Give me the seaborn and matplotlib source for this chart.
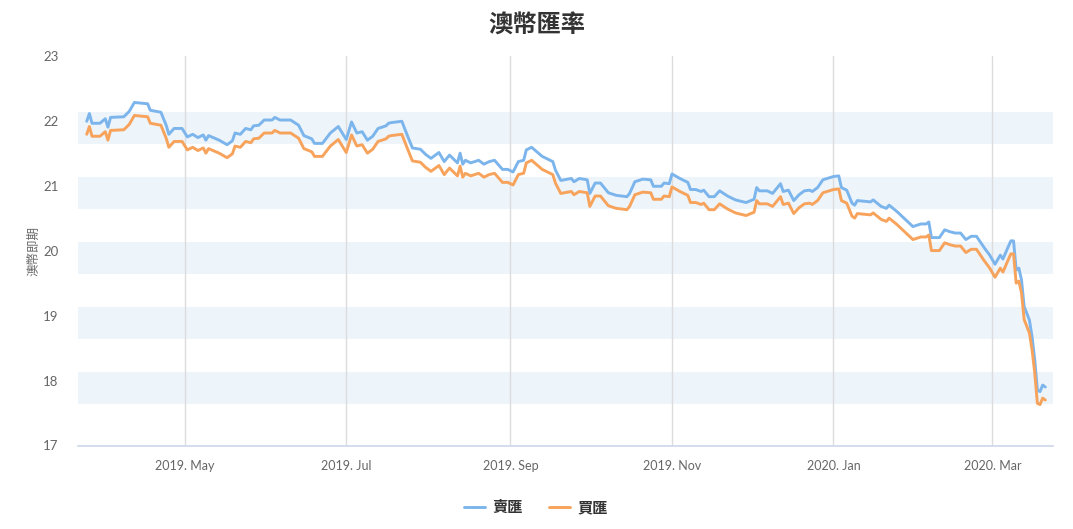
import pandas as pd
import matplotlib
matplotlib.use("Agg")
import matplotlib.pyplot as plt
import matplotlib.dates as mdates
from matplotlib.lines import Line2D
import seaborn as sns

# ---- data ----
dates = [
    # 2019-03
    "2019-03-25", "2019-03-26", "2019-03-27", "2019-03-30",
    # 2019-04
    "2019-04-01", "2019-04-02", "2019-04-03", "2019-04-08", "2019-04-10", "2019-04-12",
    "2019-04-17", "2019-04-18", "2019-04-22", "2019-04-24", "2019-04-25", "2019-04-27",
    "2019-04-30",
    # 2019-05
    "2019-05-02", "2019-05-04", "2019-05-06", "2019-05-08", "2019-05-09", "2019-05-10",
    "2019-05-14", "2019-05-17", "2019-05-19", "2019-05-20", "2019-05-22", "2019-05-24",
    "2019-05-26", "2019-05-27", "2019-05-29", "2019-05-31",
    # 2019-06
    "2019-06-03", "2019-06-04", "2019-06-06", "2019-06-10", "2019-06-13", "2019-06-15",
    "2019-06-18", "2019-06-19", "2019-06-22", "2019-06-25", "2019-06-28",
    # 2019-07
    "2019-07-01", "2019-07-03", "2019-07-05", "2019-07-07", "2019-07-09", "2019-07-11",
    "2019-07-13", "2019-07-16", "2019-07-17", "2019-07-18", "2019-07-22", "2019-07-24",
    "2019-07-26", "2019-07-29", "2019-07-31",
    # 2019-08
    "2019-08-02", "2019-08-05", "2019-08-07", "2019-08-09", "2019-08-12", "2019-08-13",
    "2019-08-14", "2019-08-15", "2019-08-17", "2019-08-20", "2019-08-22", "2019-08-24",
    "2019-08-26", "2019-08-29", "2019-08-31",
    # 2019-09
    "2019-09-02", "2019-09-04", "2019-09-06", "2019-09-07", "2019-09-09", "2019-09-11",
    "2019-09-13", "2019-09-17", "2019-09-18", "2019-09-20", "2019-09-24", "2019-09-25",
    "2019-09-27", "2019-09-30",
    # 2019-10
    "2019-10-01", "2019-10-03", "2019-10-05", "2019-10-08", "2019-10-11", "2019-10-15",
    "2019-10-16", "2019-10-18", "2019-10-21", "2019-10-24", "2019-10-25", "2019-10-28",
    "2019-10-29", "2019-10-31",
    # 2019-11
    "2019-11-01", "2019-11-04", "2019-11-07", "2019-11-08", "2019-11-10", "2019-11-12",
    "2019-11-13", "2019-11-15", "2019-11-17", "2019-11-19", "2019-11-22", "2019-11-25",
    "2019-11-29",
    # 2019-12
    "2019-12-02", "2019-12-03", "2019-12-04", "2019-12-07", "2019-12-09", "2019-12-12",
    "2019-12-13", "2019-12-15", "2019-12-17", "2019-12-19", "2019-12-21", "2019-12-23",
    "2019-12-24", "2019-12-26", "2019-12-28",
    # 2020-01
    "2020-01-01", "2020-01-03", "2020-01-04", "2020-01-06", "2020-01-08", "2020-01-09",
    "2020-01-10", "2020-01-15", "2020-01-16", "2020-01-19", "2020-01-21", "2020-01-22",
    "2020-01-25", "2020-01-31",
    # 2020-02
    "2020-02-03", "2020-02-05", "2020-02-06", "2020-02-07", "2020-02-10", "2020-02-12",
    "2020-02-14", "2020-02-16", "2020-02-18", "2020-02-20", "2020-02-22", "2020-02-24",
    "2020-02-27", "2020-02-29",
    # 2020-03
    "2020-03-02", "2020-03-03", "2020-03-04", "2020-03-05", "2020-03-07", "2020-03-08",
    "2020-03-09", "2020-03-10", "2020-03-11", "2020-03-12", "2020-03-13", "2020-03-15",
    "2020-03-16", "2020-03-17", "2020-03-18", "2020-03-19", "2020-03-20", "2020-03-21",
]

sell = [
    21.99, 22.11, 21.96, 21.96,
    22.03, 21.90, 22.05, 22.06, 22.14, 22.28, 22.26, 22.16, 22.13, 21.93, 21.79, 21.88,
    21.88,
    21.75, 21.79, 21.74, 21.78, 21.70, 21.77, 21.70, 21.63, 21.69, 21.81, 21.79, 21.88,
    21.86, 21.92, 21.93, 22.01,
    22.01, 22.05, 22.01, 22.01, 21.93, 21.77, 21.72, 21.65, 21.65, 21.81, 21.91,
    21.71, 21.98, 21.81, 21.83, 21.70, 21.76, 21.88, 21.92, 21.96, 21.97, 21.99, 21.78,
    21.58, 21.56, 21.48,
    21.42, 21.51, 21.37, 21.47, 21.35, 21.50, 21.33, 21.39, 21.35, 21.39, 21.33, 21.37,
    21.39, 21.25, 21.25,
    21.21, 21.37, 21.39, 21.55, 21.59, 21.52, 21.45, 21.37, 21.24, 21.08, 21.11, 21.06,
    21.11, 21.09,
    20.88, 21.04, 21.04, 20.89, 20.85, 20.83, 20.88, 21.06, 21.10, 21.09, 20.99, 20.99,
    21.04, 21.03,
    21.18, 21.11, 21.05, 20.94, 20.94, 20.91, 20.93, 20.83, 20.83, 20.92, 20.84, 20.78,
    20.74,
    20.79, 20.97, 20.92, 20.92, 20.88, 21.03, 20.91, 20.93, 20.77, 20.86, 20.92, 20.93,
    20.91, 20.97, 21.09,
    21.14, 21.15, 20.97, 20.93, 20.73, 20.70, 20.77, 20.75, 20.78, 20.68, 20.65, 20.70,
    20.60, 20.37,
    20.41, 20.41, 20.44, 20.20, 20.20, 20.32, 20.29, 20.27, 20.27, 20.17, 20.22, 20.22,
    20.04, 19.93,
    19.79, 19.86, 19.93, 19.87, 20.06, 20.15, 20.15, 19.70, 19.73, 19.55, 19.14, 18.93,
    18.67, 18.32, 17.85, 17.83, 17.93, 17.90,
]

buy = [
    21.79, 21.91, 21.76, 21.76,
    21.83, 21.70, 21.85, 21.86, 21.94, 22.08, 22.06, 21.96, 21.93, 21.73, 21.59, 21.68,
    21.68,
    21.55, 21.59, 21.54, 21.58, 21.50, 21.57, 21.50, 21.43, 21.49, 21.61, 21.59, 21.68,
    21.66, 21.72, 21.73, 21.81,
    21.81, 21.85, 21.81, 21.81, 21.73, 21.57, 21.52, 21.45, 21.45, 21.61, 21.71,
    21.51, 21.78, 21.61, 21.63, 21.50, 21.56, 21.68, 21.72, 21.76, 21.77, 21.79, 21.58,
    21.38, 21.36, 21.28,
    21.22, 21.31, 21.17, 21.27, 21.15, 21.30, 21.13, 21.19, 21.15, 21.19, 21.13, 21.17,
    21.19, 21.05, 21.05,
    21.01, 21.17, 21.19, 21.35, 21.39, 21.32, 21.25, 21.17, 21.04, 20.88, 20.91, 20.86,
    20.91, 20.89,
    20.68, 20.84, 20.84, 20.69, 20.65, 20.63, 20.68, 20.86, 20.90, 20.89, 20.79, 20.79,
    20.84, 20.83,
    20.98, 20.91, 20.85, 20.74, 20.74, 20.71, 20.73, 20.63, 20.63, 20.72, 20.64, 20.58,
    20.54,
    20.59, 20.77, 20.72, 20.72, 20.68, 20.83, 20.71, 20.73, 20.57, 20.66, 20.72, 20.73,
    20.71, 20.77, 20.89,
    20.94, 20.95, 20.77, 20.73, 20.53, 20.50, 20.57, 20.55, 20.58, 20.48, 20.45, 20.50,
    20.40, 20.17,
    20.21, 20.21, 20.24, 20.00, 20.00, 20.12, 20.09, 20.07, 20.07, 19.97, 20.02, 20.02,
    19.84, 19.73,
    19.59, 19.66, 19.73, 19.67, 19.86, 19.95, 19.95, 19.50, 19.53, 19.35, 18.94, 18.73,
    18.47, 18.12, 17.65, 17.63, 17.73, 17.70,
]

series_names = ["賣匯", "買匯"]
colors = ["#7cb5ec", "#f7a35c"]
y_ticks = [17, 18, 19, 20, 21, 22, 23]
x_ticks = ["2019-05-01", "2019-07-01", "2019-09-01", "2019-11-01", "2020-01-01", "2020-03-01"]


def main():
    sns.set_style("white")
    plt.rcParams["font.family"] = ["Lato", "Noto Sans CJK TC", "DejaVu Sans"]

    df = pd.DataFrame({"date": pd.to_datetime(dates), series_names[0]: sell, series_names[1]: buy})
    long_df = df.melt(id_vars="date", var_name="type", value_name="rate")

    fig = plt.figure(figsize=(10.73, 5.29), dpi=100)
    W, H = 1073, 529
    left, right, top, bottom = 78, 1053, 55.7, 445.5
    ax = fig.add_axes([left / W, 1 - bottom / H, (right - left) / W, (bottom - top) / H])

    # alternate bands
    for y in y_ticks[1:-1]:
        ax.axhspan(y - 0.365, y + 0.13, color="#edf4fa", lw=0, zorder=0.2)

    sns.lineplot(data=long_df, x="date", y="rate", hue="type", hue_order=series_names,
                 palette=colors, linewidth=2.1, legend=False, ax=ax, zorder=3)

    ax.set_ylim(17, 23)
    ax.set_xlim(pd.Timestamp("2019-05-01") - pd.Timedelta(days=40.3),
                pd.Timestamp("2019-05-01") + pd.Timedelta(days=327.9))
    ax.set_yticks(y_ticks)
    ax.set_xticks(pd.to_datetime(x_ticks))
    ax.xaxis.set_major_formatter(mdates.DateFormatter("%Y. %b"))

    ax.set_axisbelow(True)
    ax.grid(axis="x", color="#dcdcdc", lw=1.0)
    ax.grid(axis="y", visible=False)
    for s in ["top", "right", "left"]:
        ax.spines[s].set_visible(False)
    ax.spines["bottom"].set_color("#ccd6eb")
    ax.spines["bottom"].set_linewidth(1.2)

    ax.tick_params(axis="x", length=7.2, width=1, color="#ccd6eb", pad=3,
                   labelsize=9, labelcolor="#666666")
    ax.tick_params(axis="y", length=0, pad=14, labelsize=9.5, labelcolor="#666666")
    ax.set_xlabel("")
    ax.set_ylabel("")

    fig.text(33 / W, 1 - 250.6 / H, "澳幣即期", rotation=90, ha="center", va="center",
             fontsize=9, color="#666666")
    fig.text(536.5 / W, 1 - 25 / H, "澳幣匯率", ha="center", va="center",
             fontsize=17.5, color="#333333", fontweight="bold")

    handles = [Line2D([], [], color=c, lw=2.1) for c in colors]
    fig.legend(handles, series_names, loc="center", bbox_to_anchor=(536 / W, 1 - 508 / H),
               ncol=2, frameon=False, handlelength=1.35, handletextpad=0.5,
               columnspacing=1.7, prop={"size": 11, "weight": "bold"},
               labelcolor="#333333")

    fig.savefig("out.png", dpi=100)


if __name__ == "__main__":
    main()
